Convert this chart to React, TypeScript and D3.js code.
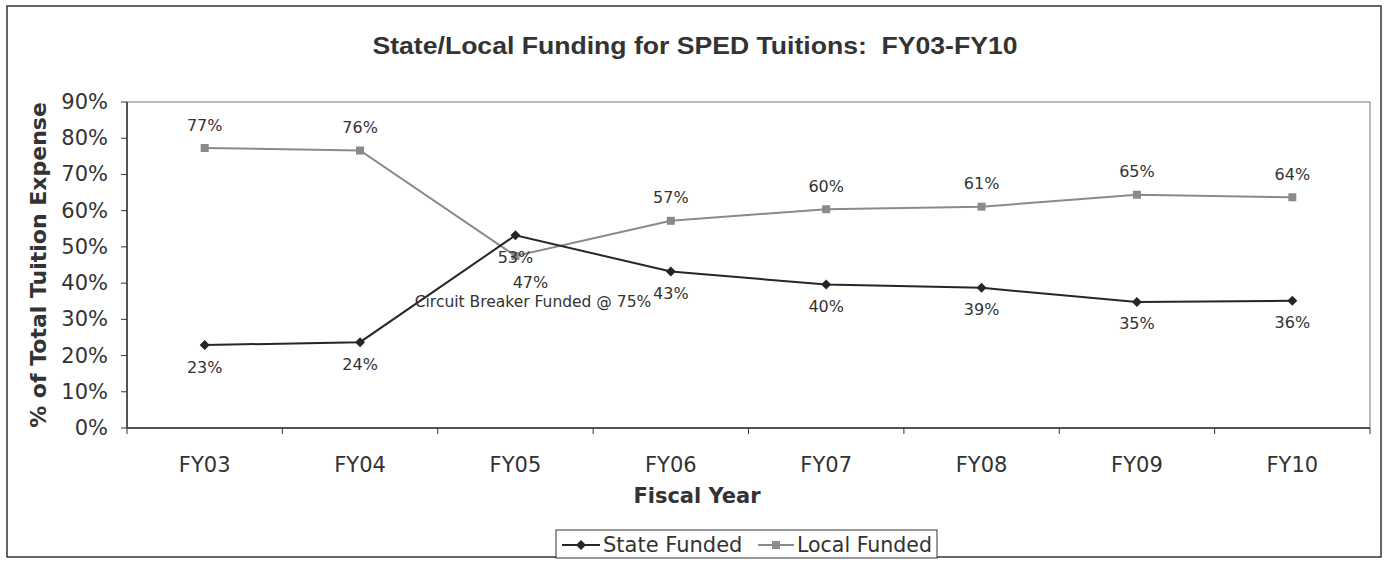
import * as d3 from "d3";

const years = ["FY03", "FY04", "FY05", "FY06", "FY07", "FY08", "FY09", "FY10"];
const stateFunded = [22.9, 23.7, 53.2, 43.2, 39.6, 38.7, 34.8, 35.1];
const localFunded = [77.3, 76.6, 47.5, 57.2, 60.4, 61.1, 64.4, 63.7];
const stateLabels = ["23%", "24%", "53%", "43%", "40%", "39%", "35%", "36%"];
const localLabels = ["77%", "76%", "47%", "57%", "60%", "61%", "65%", "64%"];
const yTicks = [0, 10, 20, 30, 40, 50, 60, 70, 80, 90];

export default function App() {
  const width = 1389;
  const height = 563;
  const plotLeft = 127;
  const plotRight = 1370;
  const plotTop = 102;
  const plotBottom = 428;

  const x = d3.scaleBand().domain(years).range([plotLeft, plotRight]);
  const y = d3.scaleLinear().domain([0, 90]).range([plotBottom, plotTop]);
  const cx = (d: string) => (x(d) ?? 0) + x.bandwidth() / 2;

  const line = d3
    .line<number>()
    .x((_, i) => cx(years[i]))
    .y((d) => y(d));

  const stateColor = "#262626";
  const localColor = "#8a8a8a";
  const font = "'DejaVu Sans', Verdana, sans-serif";

  return (
    <svg width={width} height={height} style={{ position: "absolute", left: 0, top: 0 }}>
      <rect x={0} y={0} width={width} height={height} fill="#fff" />
      {/* outer frame */}
      <rect x={7} y={6} width={1374} height={551} fill="none" stroke="#333" strokeWidth={1.5} />

      <text
        x={695}
        y={54}
        textAnchor="middle"
        fontFamily="'Liberation Sans', Arial, sans-serif"
        fontWeight="bold"
        fontSize={23}
        textLength={645}
        lengthAdjust="spacingAndGlyphs"
        fill="#333"
      >
        State/Local Funding for SPED Tuitions:{"\u00a0\u00a0"}FY03-FY10
      </text>

      {/* plot area border */}
      <rect
        x={plotLeft}
        y={plotTop}
        width={plotRight - plotLeft}
        height={plotBottom - plotTop}
        fill="none"
        stroke="#777"
        strokeWidth={1}
      />

      {/* y axis */}
      <line x1={plotLeft} x2={plotLeft} y1={plotTop} y2={plotBottom} stroke="#333" strokeWidth={1.5} />
      {yTicks.map((t) => (
        <g key={t}>
          <line x1={plotLeft - 6} x2={plotLeft} y1={y(t)} y2={y(t)} stroke="#333" />
          <text
            x={108}
            y={y(t)}
            textAnchor="end"
            dominantBaseline="central"
            fontFamily={font}
            fontSize={21}
            fill="#333"
          >
            {t}%
          </text>
        </g>
      ))}
      <text
        transform={`translate(38, ${(plotTop + plotBottom) / 2}) rotate(-90)`}
        textAnchor="middle"
        dominantBaseline="central"
        fontFamily={font}
        fontWeight="bold"
        fontSize={22}
        fill="#333"
      >
        % of Total Tuition Expense
      </text>

      {/* x axis */}
      <line x1={plotLeft} x2={plotRight} y1={plotBottom} y2={plotBottom} stroke="#333" strokeWidth={1.5} />
      {years.map((d) => (
        <g key={d}>
          <line x1={x(d) ?? 0} x2={x(d) ?? 0} y1={plotBottom} y2={plotBottom + 6} stroke="#333" />
          <text
            x={cx(d)}
            y={465}
            textAnchor="middle"
            dominantBaseline="central"
            fontFamily={font}
            fontSize={21}
            fill="#333"
          >
            {d}
          </text>
        </g>
      ))}
      <line x1={plotRight} x2={plotRight} y1={plotBottom} y2={plotBottom + 6} stroke="#333" />
      <text
        x={697}
        y={496}
        textAnchor="middle"
        dominantBaseline="central"
        fontFamily={font}
        fontWeight="bold"
        fontSize={21}
        fill="#333"
      >
        Fiscal Year
      </text>

      {/* series */}
      <path d={line(localFunded) ?? ""} fill="none" stroke={localColor} strokeWidth={2} />
      <path d={line(stateFunded) ?? ""} fill="none" stroke={stateColor} strokeWidth={2} />
      {localFunded.map((v, i) => (
        <rect key={i} x={cx(years[i]) - 4} y={y(v) - 4} width={8} height={8} fill={localColor} />
      ))}
      {stateFunded.map((v, i) => (
        <path key={i} d={`M${cx(years[i])},${y(v) - 5}l5,5l-5,5l-5,-5z`} fill={stateColor} />
      ))}

      {/* data labels */}
      {localFunded.map((v, i) => (
        <text
          key={i}
          x={cx(years[i]) + (i === 2 ? 15 : 0)}
          y={i === 2 ? y(v) + 27 : y(v) - 23}
          textAnchor="middle"
          dominantBaseline="central"
          fontFamily={font}
          fontSize={16}
          fill="#333"
        >
          {localLabels[i]}
        </text>
      ))}
      {stateFunded.map((v, i) => (
        <text
          key={i}
          x={cx(years[i])}
          y={y(v) + 22}
          textAnchor="middle"
          dominantBaseline="central"
          fontFamily={font}
          fontSize={16}
          fill="#333"
        >
          {stateLabels[i]}
        </text>
      ))}
      <text
        x={533}
        y={302}
        textAnchor="middle"
        dominantBaseline="central"
        fontFamily={font}
        fontSize={15.5}
        fill="#333"
      >
        Circuit Breaker Funded @ 75%
      </text>

      {/* legend */}
      <rect x={556} y={530} width={381} height={28} fill="#fff" stroke="#333" strokeWidth={1} />
      <line x1={562} x2={600} y1={545} y2={545} stroke={stateColor} strokeWidth={2} />
      <path d="M581,540l5,5l-5,5l-5,-5z" fill={stateColor} />
      <text x={603} y={545} dominantBaseline="central" fontFamily={font} fontSize={21} fill="#333">
        State Funded
      </text>
      <line x1={758} x2={794} y1={545} y2={545} stroke={localColor} strokeWidth={2} />
      <rect x={772} y={541} width={8} height={8} fill={localColor} />
      <text x={797} y={545} dominantBaseline="central" fontFamily={font} fontSize={20.5} fill="#333">
        Local Funded
      </text>
    </svg>
  );
}
